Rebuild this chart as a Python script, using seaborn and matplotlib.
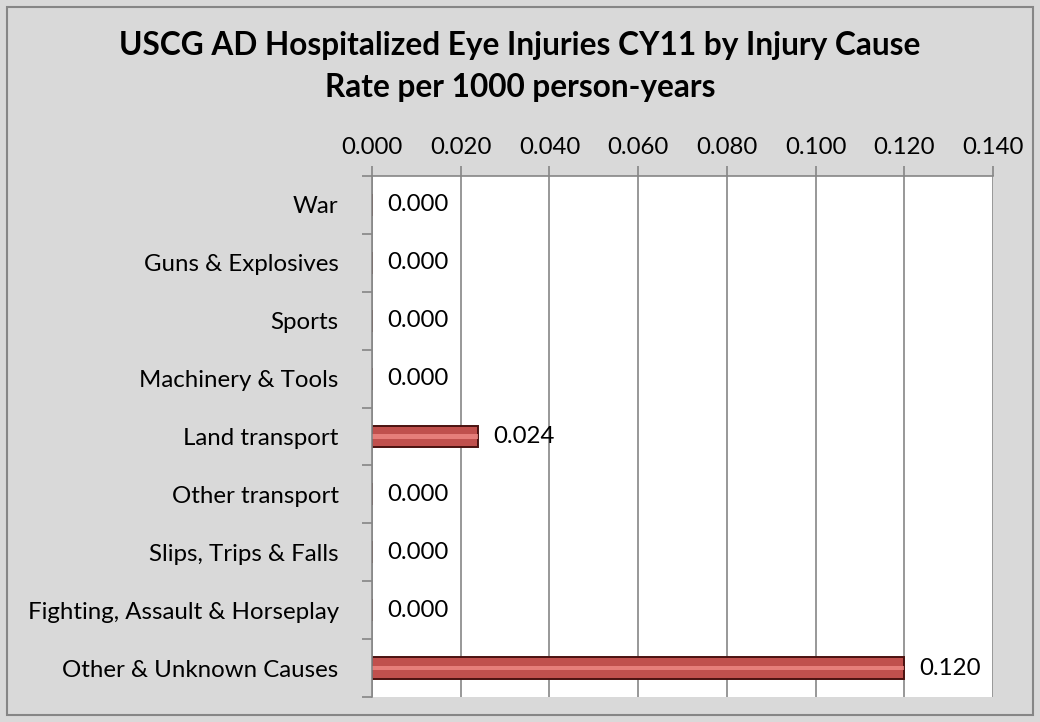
import matplotlib
matplotlib.use("Agg")
import matplotlib.pyplot as plt
import seaborn as sns
import pandas as pd
from matplotlib.patches import Rectangle

categories = ["War", "Guns & Explosives", "Sports", "Machinery & Tools",
              "Land transport", "Other transport", "Slips, Trips & Falls",
              "Fighting, Assault & Horseplay", "Other & Unknown Causes"]
rates = [0.000, 0.000, 0.000, 0.000, 0.024, 0.000, 0.000, 0.000, 0.120]
xticks = [0.000, 0.020, 0.040, 0.060, 0.080, 0.100, 0.120, 0.140]

sns.set_theme(style="white")
plt.rcParams['font.family'] = ['Lato', 'DejaVu Sans']
plt.rcParams['text.color'] = 'black'
plt.rcParams['xtick.labelcolor'] = 'black'
plt.rcParams['ytick.labelcolor'] = 'black'

df = pd.DataFrame({"cat": categories, "rate": rates})

fig = plt.figure(figsize=(10.4, 7.22), dpi=100, facecolor="#d9d9d9")
fig.patches.append(Rectangle((7/1040, 7/722), 1 - 14/1040, 1 - 14/722,
                             transform=fig.transFigure, fill=False,
                             edgecolor="#868686", linewidth=1.5))
ax = fig.add_axes([372/1040, 1 - 697/722, (993-372)/1040, (697-176)/722])
ax.set_facecolor("white")

sns.barplot(data=df, x="rate", y="cat", ax=ax, color="#c0504d",
            orient="h", width=0.38, edgecolor="#4a1210", linewidth=1.4,
            saturation=1)
# glossy highlight stripe
sns.barplot(data=df, x="rate", y="cat", ax=ax, color="#f08a86",
            orient="h", width=0.08, linewidth=0, saturation=1, alpha=0.8)

ax.set_xlim(0, 0.14)
ax.set_ylim(len(categories) - 0.5, -0.5)
ax.xaxis.tick_top()
ax.set_xticks(xticks)
ax.set_xticklabels([f"{v:.3f}" for v in xticks], fontsize=17.3)
ax.tick_params(axis="x", which="both", top=True, length=7, width=1.2,
               color="#868686", pad=6, direction="out")
ax.set_yticks(range(len(categories)))
ax.set_yticklabels(categories, fontsize=17.3)
ax.tick_params(axis="y", length=0, pad=24)
ax.set_yticks([i - 0.5 for i in range(len(categories) + 1)], minor=True)
ax.tick_params(axis="y", which="minor", left=True, length=7, width=1.2,
               color="#868686", direction="out")
ax.set_xlabel("")
ax.set_ylabel("")
ax.grid(axis="x", color="#868686", linewidth=1.2)
ax.set_axisbelow(True)
for side in ["right", "bottom"]:
    ax.spines[side].set_visible(False)
for side in ["top", "left"]:
    ax.spines[side].set_color("#868686")
    ax.spines[side].set_linewidth(1.2)

for i, v in enumerate(rates):
    ax.annotate(f"{v:.3f}", xy=(v, i), xytext=(11, 0), textcoords="offset points",
                va="center", ha="left", fontsize=17.3, color="black")

fig.text(0.5, 1 - 46/722, "USCG AD Hospitalized Eye Injuries CY11 by Injury Cause",
         ha="center", va="center", fontsize=22.8, fontweight="bold", color="black")
fig.text(0.5, 1 - 88/722, "Rate per 1000 person-years",
         ha="center", va="center", fontsize=22.8, fontweight="bold", color="black")

fig.savefig("out.png", dpi=100, facecolor=fig.get_facecolor())
